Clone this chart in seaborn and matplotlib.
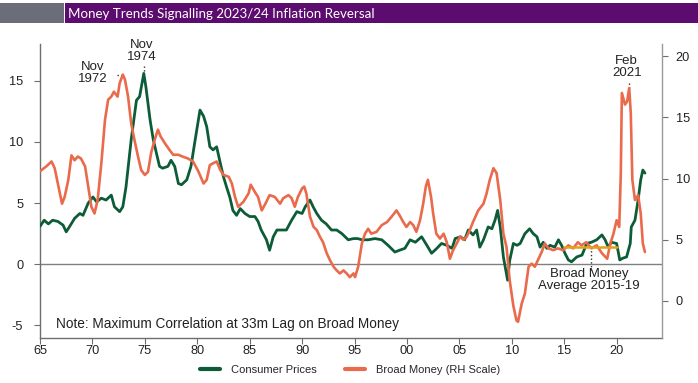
import numpy as np
import pandas as pd
import matplotlib
matplotlib.use("Agg")
import matplotlib.pyplot as plt
import seaborn as sns
from matplotlib.patches import Rectangle
from matplotlib.lines import Line2D

# ---------------- data ----------------
cpi_years = [1965.0, 1965.4, 1965.8, 1966.2, 1966.7, 1967.2, 1967.5, 1967.8, 1968.3, 1968.8,
             1969.1, 1969.6, 1970.05, 1970.4, 1970.85, 1971.3, 1971.8, 1972.1, 1972.6, 1972.9,
             1973.2, 1973.7, 1974.2, 1974.5, 1974.9, 1975.1, 1975.5, 1975.8, 1976.1, 1976.4,
             1976.7, 1977.2, 1977.5, 1977.85, 1978.2, 1978.5, 1979.0, 1979.4, 1979.75, 1980.26,
             1980.6, 1980.9, 1981.2, 1981.5, 1981.85, 1982.2, 1982.5, 1982.8, 1983.1, 1983.4,
             1983.75, 1984.1, 1984.55, 1985.0, 1985.5, 1985.8, 1986.1, 1986.6, 1986.9, 1987.25,
             1987.6, 1988.05, 1988.5, 1989.0, 1989.5, 1990.0, 1990.3, 1990.75, 1991.05, 1991.4,
             1991.85, 1992.3, 1992.8, 1993.3, 1993.8, 1994.4, 1994.9, 1995.3, 1995.7, 1996.3,
             1996.95, 1997.6, 1998.2, 1998.85, 1999.3, 1999.8, 2000.3, 2000.8, 2001.4, 2001.9,
             2002.35, 2002.85, 2003.3, 2003.8, 2004.3, 2004.6, 2005.1, 2005.5, 2005.85, 2006.3,
             2006.65, 2006.95, 2007.3, 2007.75, 2008.1, 2008.4, 2008.65, 2008.9, 2009.2, 2009.6,
             2009.8, 2010.15, 2010.5, 2010.8, 2011.25, 2011.7, 2012.05, 2012.4, 2012.7, 2013.0,
             2013.35, 2013.65, 2014.1, 2014.45, 2014.75, 2015.07, 2015.4, 2015.7, 2016.2, 2016.7,
             2017.15, 2017.6, 2018.1, 2018.6, 2018.9, 2019.2, 2019.5, 2020.0, 2020.3, 2020.6,
             2020.95, 2021.3, 2021.4, 2021.75, 2022.05, 2022.3, 2022.5, 2022.7]
cpi_values = [3.1, 3.6, 3.3, 3.6, 3.5, 3.2, 2.65, 3.05, 3.75, 4.15,
              4.0, 5.0, 5.5, 5.1, 5.4, 5.25, 5.65, 4.7, 4.3, 4.7,
              6.3, 10.2, 13.4, 13.7, 15.6, 14.5, 11.8, 10.2, 9.1, 8.0,
              7.85, 8.0, 8.5, 8.0, 6.6, 6.5, 6.9, 8.0, 9.9, 12.6,
              12.1, 11.25, 9.6, 9.35, 9.6, 8.25, 7.15, 6.3, 5.5, 4.4,
              4.0, 4.55, 4.15, 3.9, 3.9, 3.5, 2.8, 2.0, 1.15, 2.25,
              2.8, 2.8, 2.8, 3.6, 4.3, 4.15, 4.7, 5.25, 4.7, 4.15,
              3.6, 3.3, 2.8, 2.8, 2.5, 2.0, 2.1, 2.1, 2.0, 2.0,
              2.1, 2.0, 1.55, 1.0, 1.15, 1.3, 2.0, 1.8, 2.25, 1.55,
              0.9, 1.3, 1.7, 1.55, 1.3, 2.1, 2.25, 2.0, 2.8, 2.4,
              2.8, 1.4, 2.0, 3.05, 2.9, 3.6, 4.4, 3.05, 0.6, -1.3,
              0.3, 1.7, 1.55, 1.7, 2.5, 2.9, 2.5, 2.25, 1.4, 1.8,
              1.3, 1.55, 1.4, 2.0, 1.55, 0.9, 0.35, 0.2, 0.6, 0.75,
              1.7, 1.8, 2.0, 2.4, 2.0, 1.4, 1.8, 1.7, 0.35, 0.5,
              0.6, 1.7, 3.05, 3.6, 5.25, 6.9, 7.7, 7.45]

money_years = [1965.0, 1965.6, 1966.1, 1966.4, 1966.7, 1967.1, 1967.35, 1967.7, 1968.0, 1968.3,
               1968.6, 1968.9, 1969.3, 1969.6, 1969.9, 1970.2, 1970.5, 1970.85, 1971.2, 1971.5,
               1971.8, 1972.05, 1972.4, 1972.6, 1972.9, 1973.1, 1973.4, 1973.7, 1974.0, 1974.35,
               1974.65, 1975.0, 1975.3, 1975.6, 1975.95, 1976.25, 1976.5, 1976.9, 1977.35, 1977.7,
               1978.2, 1978.6, 1979.1, 1979.6, 1980.1, 1980.6, 1980.9, 1981.2, 1981.5, 1981.85,
               1982.2, 1982.5, 1983.0, 1983.3, 1983.6, 1983.9, 1984.4, 1984.9, 1985.1, 1985.5,
               1985.8, 1986.15, 1986.5, 1986.9, 1987.4, 1987.9, 1988.2, 1988.7, 1989.0, 1989.3,
               1989.6, 1990.0, 1990.2, 1990.4, 1990.75, 1991.1, 1991.4, 1991.7, 1992.0, 1992.35,
               1992.65, 1993.0, 1993.3, 1993.6, 1993.95, 1994.25, 1994.55, 1994.9, 1995.05, 1995.35,
               1995.7, 1996.0, 1996.3, 1996.6, 1997.1, 1997.6, 1998.1, 1998.55, 1999.0, 1999.3,
               1999.65, 1999.95, 2000.3, 2000.6, 2000.9, 2001.25, 2001.55, 2001.8, 2002.0, 2002.3,
               2002.5, 2002.8, 2003.15, 2003.5, 2003.8, 2004.1, 2004.4, 2004.75, 2005.05, 2005.4,
               2005.7, 2006.0, 2006.3, 2006.8, 2007.3, 2007.6, 2007.9, 2008.25, 2008.55, 2008.9,
               2009.2, 2009.5, 2009.8, 2010.15, 2010.45, 2010.6, 2010.95, 2011.25, 2011.6, 2011.9,
               2012.2, 2012.5, 2012.85, 2013.15, 2013.5, 2013.95, 2014.4, 2014.9, 2015.4, 2015.85,
               2016.3, 2016.65, 2017.1, 2017.6, 2018.1, 2018.6, 2019.1, 2019.4, 2019.7, 2020.0,
               2020.25, 2020.4, 2020.5, 2020.8, 2021.0, 2021.2, 2021.35, 2021.5, 2021.75, 2022.05,
               2022.3, 2022.5, 2022.7]
money_values = [10.6, 11.0, 11.4, 10.85, 9.6, 7.95, 8.5, 9.9, 11.9, 11.5,
                11.8, 11.65, 11.0, 9.35, 7.7, 7.15, 8.25, 11.25, 14.8, 16.45,
                16.7, 17.1, 16.7, 17.8, 18.5, 18.1, 16.7, 14.5, 13.2, 11.8,
                10.7, 10.3, 10.55, 12.1, 13.2, 14.0, 13.45, 12.9, 12.35, 11.95,
                11.95, 11.8, 11.65, 11.4, 10.6, 9.6, 9.9, 11.1, 11.25, 11.4,
                10.7, 10.3, 10.15, 9.6, 8.5, 7.7, 8.1, 8.8, 9.5, 8.9,
                8.5, 7.4, 7.95, 8.65, 8.5, 7.95, 8.4, 8.65, 8.4, 7.7,
                8.5, 9.2, 9.35, 8.8, 6.9, 6.05, 5.8, 5.25, 4.8, 3.9,
                3.35, 2.8, 2.5, 2.25, 2.5, 2.25, 1.95, 2.25, 1.95, 2.8,
                4.7, 5.5, 5.9, 5.5, 5.65, 6.2, 6.45, 6.9, 7.4, 7.0,
                6.45, 6.05, 6.45, 6.2, 5.65, 6.6, 7.95, 9.35, 9.9, 8.5,
                7.15, 5.5, 5.1, 5.5, 4.8, 3.45, 4.15, 4.7, 5.25, 5.0,
                5.25, 5.8, 6.45, 7.4, 7.95, 8.8, 9.9, 10.85, 10.45, 8.25,
                5.5, 4.4, 1.7, -0.4, -1.6, -1.7, -0.2, 0.6, 2.8, 3.05,
                2.8, 3.35, 4.0, 4.7, 4.3, 4.15, 4.3, 4.15, 4.55, 4.3,
                4.8, 4.55, 4.8, 4.3, 4.55, 3.9, 3.45, 4.7, 5.5, 6.6,
                6.05, 10.45, 17.0, 16.05, 16.3, 17.4, 15.35, 9.9, 8.25, 8.65,
                7.15, 4.7, 4.0]

avg_years = [2015.0, 2020.0]
avg_values = [4.4, 4.4]

xtick_years = [1965, 1970, 1975, 1980, 1985, 1990, 1995, 2000, 2005, 2010, 2015, 2020]
xtick_labels = ["65", "70", "75", "80", "85", "90", "95", "00", "05", "10", "15", "20"]
left_ticks = [-5, 0, 5, 10, 15]
right_ticks = [0, 5, 10, 15, 20]

cpi_label = "Consumer Prices"
money_label = "Broad Money (RH Scale)"
title = "Money Trends Signalling 2023/24 Inflation Reversal"

# ---------------- style ----------------
GREEN = "#0d5c38"
ORANGE = "#ea6a4c"
GOLD = "#e0a31c"
SPINE = "#6e6e6e"
TXT = "#222222"

sns.set_theme(style="white")
plt.rcParams['font.family'] = ['Liberation Sans', 'DejaVu Sans']
plt.rcParams['axes.unicode_minus'] = False

W, H = 698, 383
fig = plt.figure(figsize=(W / 100, H / 100), dpi=100)
fig.patch.set_facecolor("white")

L, R, T, B = 40, 661.7, 44, 337.7
ax = fig.add_axes([L / W, 1 - B / H, (R - L) / W, (B - T) / H])
ax2 = ax.twinx()

df_cpi = pd.DataFrame({"year": cpi_years, "value": cpi_values})
df_money = pd.DataFrame({"year": money_years, "value": money_values})
df_avg = pd.DataFrame({"year": avg_years, "value": avg_values})

ax.axhline(0, color="#808080", lw=1.0, zorder=1)
sns.lineplot(data=df_cpi, x="year", y="value", ax=ax, color=GREEN, lw=2.0, legend=False, zorder=3)
sns.lineplot(data=df_money, x="year", y="value", ax=ax2, color=ORANGE, lw=1.9, legend=False, zorder=3)
sns.lineplot(data=df_avg, x="year", y="value", ax=ax2, color=GOLD, lw=1.8, legend=False, zorder=4)

ax.set_xlim(1965, 2024.3)
ax.set_ylim(-6, 18)
ax2.set_ylim(-3, 21)
for a in (ax, ax2):
    a.set_xlabel("")
    a.set_ylabel("")
    a.grid(False)
    a.spines["top"].set_visible(False)
ax.spines["right"].set_visible(False)
ax2.spines["left"].set_visible(False)
ax2.spines["bottom"].set_visible(False)
for s in ("left", "bottom"):
    ax.spines[s].set_color(SPINE)
    ax.spines[s].set_linewidth(1.0)
ax2.spines["right"].set_color("#999999")
ax2.spines["right"].set_linewidth(1.0)

tfs = 9.2
ax.set_xticks(xtick_years)
ax.set_xticklabels(xtick_labels)
ax.set_yticks(left_ticks)
ax2.set_yticks(right_ticks)
ax.tick_params(axis="x", direction="out", length=4, width=0.8, color=SPINE, pad=1.5,
               labelsize=tfs, labelcolor=TXT, bottom=True)
ax.tick_params(axis="y", direction="out", length=4, width=0.8, color=SPINE, pad=8,
               labelsize=tfs, labelcolor=TXT, left=True)
ax2.tick_params(axis="y", direction="out", length=4, width=0.8, color=SPINE, pad=6,
                labelsize=tfs, labelcolor=TXT, right=True)

# ---------------- annotations ----------------
fs = 9.5
ax.text(1970.05, 15.65, "Nov\n1972", ha="center", va="center", fontsize=fs, color=TXT, linespacing=1.0)
ax.plot([1972.3, 1972.9], [15.5, 15.5], ls=":", color="#333333", lw=1.0)
ax.text(1974.73, 17.45, "Nov\n1974", ha="center", va="center", fontsize=fs, color=TXT, linespacing=1.0)
ax.plot([1974.92, 1974.92], [16.2, 15.75], ls=":", color="#333333", lw=1.0)
ax.text(2020.96, 16.15, "Feb\n2021", ha="center", va="center", fontsize=fs, color=TXT, linespacing=1.0)
ax.plot([2021.17, 2021.17], [14.8, 14.4], ls=":", color="#333333", lw=1.0)
ax.text(2017.36, -1.31, "Broad Money\nAverage 2015-19", ha="center", va="center", fontsize=fs,
        color=TXT, linespacing=1.0)
ax.plot([2017.55, 2017.55], [1.42, -0.45], ls=":", color="#333333", lw=1.0)
ax.text(1966.5, -4.84, "Note: Maximum Correlation at 33m Lag on Broad Money", ha="left", va="center",
        fontsize=9.8, color=TXT)

# ---------------- header ----------------
fig.add_artist(Rectangle((0, 1 - 23 / H), 64 / W, 20 / H, transform=fig.transFigure,
                         facecolor="#6b6e79", edgecolor="none"))
fig.add_artist(Rectangle((65 / W, 1 - 23 / H), (W - 65) / W, 20 / H, transform=fig.transFigure,
                         facecolor="#5c0b6e", edgecolor="none"))
fig.text(68 / W, 1 - 13.5 / H, title, ha="left", va="center", color="white", fontsize=9.6,
         family=["Lato", "DejaVu Sans"])

# ---------------- legend ----------------
handles = [Line2D([], [], color=GREEN, lw=3), Line2D([], [], color=ORANGE, lw=3)]
fig.legend(handles, [cpi_label, money_label], loc="center left",
           bbox_to_anchor=(200 / W, 1 - 370 / H), ncol=2, frameon=False, fontsize=8,
           handlelength=1.8, handletextpad=0.95, columnspacing=2.6, borderpad=0, borderaxespad=0)

fig.savefig("out.png", dpi=100, facecolor="white")
